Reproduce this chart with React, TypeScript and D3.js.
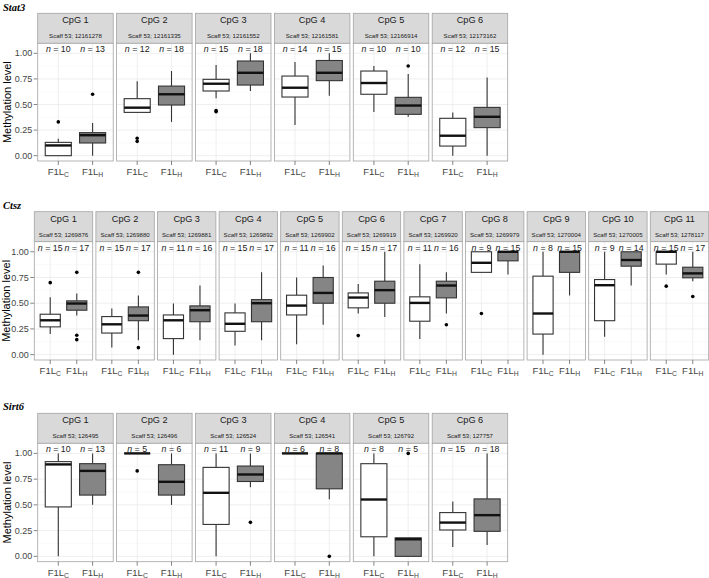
import React from "react";
import * as d3 from "d3";

// ---------- DATA ----------
const groups = ["F1LC", "F1LH"];
const groupSubs = ["C", "H"];
const yTicks = [0, 0.25, 0.5, 0.75, 1];
const yMinor = [0.125, 0.375, 0.625, 0.875];

// stats arrays: [lowerWhisker, q1, median, q3, upperWhisker]
const stat3Cpg = ["CpG 1", "CpG 2", "CpG 3", "CpG 4", "CpG 5", "CpG 6"];
const stat3Scaff = ["Scaff 53; 12161278", "Scaff 53; 12161335", "Scaff 53; 12161552", "Scaff 53; 12161581", "Scaff 53; 12166914", "Scaff 53; 12173162"];
const stat3NC = [10, 12, 15, 14, 10, 12];
const stat3NH = [13, 18, 18, 15, 10, 15];
const stat3C = [
  [0, 0, 0.1, 0.13, 0.166],
  [0.42, 0.423, 0.469, 0.557, 0.726],
  [0.56, 0.632, 0.703, 0.746, 0.886],
  [0.3, 0.573, 0.664, 0.778, 0.915],
  [0.427, 0.6, 0.71, 0.827, 0.876],
  [0, 0.094, 0.195, 0.365, 0.423],
];
const stat3H = [
  [0, 0.124, 0.2, 0.225, 0.32],
  [0.33, 0.495, 0.6, 0.68, 0.827],
  [0.632, 0.69, 0.81, 0.925, 1.0],
  [0.586, 0.733, 0.81, 0.93, 1.0],
  [0.38, 0.404, 0.49, 0.57, 0.798],
  [0, 0.274, 0.38, 0.472, 0.765],
];
const stat3OutC = [[0.33], [0.14, 0.17], [0.43, 0.44], [], [], []];
const stat3OutH = [[0.6], [], [], [], [0.876], []];

const ctszCpg = ["CpG 1", "CpG 2", "CpG 3", "CpG 4", "CpG 5", "CpG 6", "CpG 7", "CpG 8", "CpG 9", "CpG 10", "CpG 11"];
const ctszScaff = ["Scaff 53; 1269876", "Scaff 53; 1269880", "Scaff 53; 1269881", "Scaff 53; 1269892", "Scaff 53; 1269902", "Scaff 53; 1269919", "Scaff 53; 1269920", "Scaff 53; 1269979", "Scaff 53; 1270004", "Scaff 53; 1270005", "Scaff 53; 1278117"];
const ctszNC = [15, 15, 11, 15, 11, 15, 11, 9, 8, 9, 15];
const ctszNH = [17, 17, 16, 17, 16, 17, 16, 15, 15, 14, 17];
const ctszC = [
  [0.2, 0.27, 0.334, 0.393, 0.558],
  [0.07, 0.21, 0.295, 0.37, 0.448],
  [0, 0.156, 0.334, 0.386, 0.497],
  [0.09, 0.227, 0.3, 0.406, 0.497],
  [0.1, 0.386, 0.477, 0.578, 0.75],
  [0.4, 0.455, 0.555, 0.6, 0.688],
  [0.153, 0.325, 0.503, 0.562, 0.88],
  [0.8, 0.8, 0.893, 1.0, 1.0],
  [0, 0.2, 0.4, 0.763, 1.0],
  [0.175, 0.33, 0.675, 0.73, 1.0],
  [0.78, 0.88, 1.0, 1.0, 1.0],
];
const ctszH = [
  [0.38, 0.432, 0.497, 0.523, 0.594],
  [0.14, 0.33, 0.38, 0.464, 0.575],
  [0.14, 0.32, 0.432, 0.474, 0.672],
  [0.14, 0.32, 0.5, 0.535, 0.8],
  [0.29, 0.5, 0.6, 0.75, 0.867],
  [0.367, 0.5, 0.627, 0.714, 1.0],
  [0.4, 0.552, 0.672, 0.714, 0.8],
  [0.78, 0.912, 1.0, 1.0, 1.0],
  [0.575, 0.8, 1.0, 1.0, 1.0],
  [0.672, 0.86, 0.92, 1.0, 1.0],
  [0.714, 0.747, 0.79, 0.85, 1.0],
];
const ctszOutC = [[0.7], [], [], [], [], [0.185], [], [0.4], [], [], [0.666]];
const ctszOutH = [[0.8, 0.188, 0.146], [0.8, 0.068], [], [], [], [], [0.29], [], [], [], [0.565]];

const sirt6Cpg = ["CpG 1", "CpG 2", "CpG 3", "CpG 4", "CpG 5", "CpG 6"];
const sirt6Scaff = ["Scaff 53; 126495", "Scaff 53; 126496", "Scaff 53; 126524", "Scaff 53; 126541", "Scaff 53; 126792", "Scaff 53; 127757"];
const sirt6NC = [10, 5, 11, 6, 8, 15];
const sirt6NH = [13, 6, 9, 8, 5, 18];
const sirt6C = [
  [0, 0.48, 0.893, 0.92, 1.0],
  [1, 1, 1, 1, 1],
  [0, 0.31, 0.617, 0.864, 1.0],
  [1, 1, 1, 1, 1],
  [0, 0.19, 0.552, 0.9, 1.0],
  [0.09, 0.256, 0.328, 0.425, 0.532],
];
const sirt6H = [
  [0.5, 0.595, 0.83, 0.9, 1.0],
  [0.5, 0.595, 0.724, 0.89, 1.0],
  [0.67, 0.727, 0.795, 0.877, 1.0],
  [0.555, 0.656, 1.0, 1.0, 1.0],
  [0, 0, 0.166, 0.18, 0.18],
  [0.11, 0.243, 0.4, 0.558, 1.0],
];
const sirt6OutC = [[], [0.83], [], [], [], []];
const sirt6OutH = [[], [], [0.33], [0], [1.0], []];

// ---------- STYLE ----------
const FONT = "'Liberation Sans', Arial, Helvetica, sans-serif";
const BORDER = "#a3a3a3";
const STRIP_FILL = "#d9d9d9";
const GRID_MAJOR = "#ebebeb";
const GRID_MINOR = "#f6f6f6";
const AXIS_TEXT = "#444";
const BOX_LINE = "#333";
const FILL_C = "#ffffff";
const FILL_H = "#858585";

type Layout = {
  left: number;
  panelW: number;
  gap: number;
  stripTop: number;
  stripBottom: number;
  panelBottom: number;
  titleY: number;
  yTitleX: number;
};

type SectionProps = {
  title: string;
  cpg: string[];
  scaff: string[];
  nC: number[];
  nH: number[];
  statsC: number[][];
  statsH: number[][];
  outC: number[][];
  outH: number[][];
  layout: Layout;
};

function Box({ s, cx, bw, y, fill }: { s: number[]; cx: number; bw: number; y: d3.ScaleLinear<number, number>; fill: string }) {
  const [lo, q1, med, q3, hi] = s;
  return (
    <g>
      {hi > q3 && <line x1={cx} x2={cx} y1={y(q3)} y2={y(hi)} stroke={BOX_LINE} strokeWidth={1.1} />}
      {lo < q1 && <line x1={cx} x2={cx} y1={y(q1)} y2={y(lo)} stroke={BOX_LINE} strokeWidth={1.1} />}
      <rect x={cx - bw / 2} y={y(q3)} width={bw} height={Math.max(0, y(q1) - y(q3))} fill={fill} stroke={BOX_LINE} strokeWidth={1.1} />
      <line x1={cx - bw / 2} x2={cx + bw / 2} y1={y(med)} y2={y(med)} stroke="#111" strokeWidth={2.4} />
    </g>
  );
}

function Section({ title, cpg, scaff, nC, nH, statsC, statsH, outC, outH, layout }: SectionProps) {
  const { left, panelW, gap, stripTop, stripBottom, panelBottom, titleY, yTitleX } = layout;
  const y = d3.scaleLinear().domain([-0.052, 1.098]).range([panelBottom, stripBottom]);
  const midY = (stripBottom + panelBottom) / 2;
  return (
    <g>
      <text x={3} y={titleY} fontFamily="'Liberation Serif', 'Times New Roman', serif" fontStyle="italic" fontWeight="bold" fontSize={10.5} fill="#000">
        {title}
      </text>
      <text transform={`translate(${yTitleX},${midY}) rotate(-90)`} textAnchor="middle" fontFamily={FONT} fontSize={11} fill="#000">
        Methylation level
      </text>
      {/* y axis */}
      {yTicks.map((t) => (
        <g key={t}>
          <line x1={left - 4} x2={left} y1={y(t)} y2={y(t)} stroke="#666" strokeWidth={0.8} />
          <text x={left - 5.5} y={y(t)} dy="0.34em" textAnchor="end" fontFamily={FONT} fontSize={9} fill={AXIS_TEXT}>
            {d3.format(".2f")(t)}
          </text>
        </g>
      ))}
      {cpg.map((label, i) => {
        const px = left + i * (panelW + gap);
        const x = d3.scaleLinear().domain([0.4, 2.6]).range([px, px + panelW]);
        const bw = (x(1.76) - x(1)) ;
        const positions = [x(1), x(2)];
        const stats = [statsC[i], statsH[i]];
        const outs = [outC[i], outH[i]];
        const ns = [nC[i], nH[i]];
        const fills = [FILL_C, FILL_H];
        return (
          <g key={label}>
            {/* strip */}
            <rect x={px} y={stripTop} width={panelW} height={stripBottom - stripTop} fill={STRIP_FILL} stroke={BORDER} strokeWidth={0.8} />
            <text x={px + panelW / 2} y={stripTop + 10} textAnchor="middle" fontFamily={FONT} fontSize={9.2} fill="#1a1a1a">
              {label}
            </text>
            <text x={px + panelW / 2} y={stripTop + 25} textAnchor="middle" fontFamily={FONT} fontSize={6.1} fill="#1a1a1a">
              {scaff[i]}
            </text>
            {/* panel */}
            <rect x={px} y={stripBottom} width={panelW} height={panelBottom - stripBottom} fill="#fff" />
            {yMinor.map((t) => (
              <line key={"mn" + t} x1={px} x2={px + panelW} y1={y(t)} y2={y(t)} stroke={GRID_MINOR} strokeWidth={0.6} />
            ))}
            {yTicks.map((t) => (
              <line key={"mj" + t} x1={px} x2={px + panelW} y1={y(t)} y2={y(t)} stroke={GRID_MAJOR} strokeWidth={0.8} />
            ))}
            {positions.map((cx, k) => (
              <line key={"vg" + k} x1={cx} x2={cx} y1={stripBottom} y2={panelBottom} stroke={GRID_MAJOR} strokeWidth={0.8} />
            ))}
            {positions.map((cx, k) => (
              <Box key={"b" + k} s={stats[k]} cx={cx} bw={bw} y={y} fill={fills[k]} />
            ))}
            {positions.map((cx, k) =>
              outs[k].map((v, j) => <circle key={"o" + k + "-" + j} cx={cx} cy={y(v)} r={1.8} fill="#000" />)
            )}
            {positions.map((cx, k) => (
              <text key={"n" + k} x={cx} y={y(1.04)} dy="0.35em" textAnchor="middle" fontFamily={FONT} fontSize={8.8} fill="#1a1a1a">
                <tspan fontStyle="italic">n</tspan>
                {" = " + ns[k]}
              </text>
            ))}
            <rect x={px} y={stripBottom} width={panelW} height={panelBottom - stripBottom} fill="none" stroke={BORDER} strokeWidth={0.8} />
            {/* x axis */}
            {positions.map((cx, k) => (
              <g key={"xt" + k}>
                <line x1={cx} x2={cx} y1={panelBottom} y2={panelBottom + 4} stroke="#666" strokeWidth={0.8} />
                <text x={cx} y={panelBottom + 14} textAnchor="middle" fontFamily={FONT} fontSize={9.5} fill={AXIS_TEXT}>
                  {groups[k].slice(0, 3)}
                  <tspan fontSize={6.8} dy={2}>{groupSubs[k]}</tspan>
                </text>
              </g>
            ))}
          </g>
        );
      })}
    </g>
  );
}

export default function App() {
  const stat3Layout: Layout = { left: 37.7, panelW: 75.5, gap: 3.4, stripTop: 13.3, stripBottom: 43.3, panelBottom: 161, titleY: 10.5, yTitleX: 11 };
  const ctszLayout: Layout = { left: 34.3, panelW: 58.4, gap: 3.2, stripTop: 211.7, stripBottom: 241.7, panelBottom: 360, titleY: 209, yTitleX: 9.5 };
  const sirt6Layout: Layout = { left: 37.7, panelW: 75.5, gap: 3.4, stripTop: 413.3, stripBottom: 443.3, panelBottom: 561.7, titleY: 410, yTitleX: 11 };
  return (
    <svg width={709} height={578} style={{ position: "absolute", left: 0, top: 0, background: "#fff" }}>
      <rect width={709} height={578} fill="#fff" />
      <Section title="Stat3" cpg={stat3Cpg} scaff={stat3Scaff} nC={stat3NC} nH={stat3NH} statsC={stat3C} statsH={stat3H} outC={stat3OutC} outH={stat3OutH} layout={stat3Layout} />
      <Section title="Ctsz" cpg={ctszCpg} scaff={ctszScaff} nC={ctszNC} nH={ctszNH} statsC={ctszC} statsH={ctszH} outC={ctszOutC} outH={ctszOutH} layout={ctszLayout} />
      <Section title="Sirt6" cpg={sirt6Cpg} scaff={sirt6Scaff} nC={sirt6NC} nH={sirt6NH} statsC={sirt6C} statsH={sirt6H} outC={sirt6OutC} outH={sirt6OutH} layout={sirt6Layout} />
    </svg>
  );
}
